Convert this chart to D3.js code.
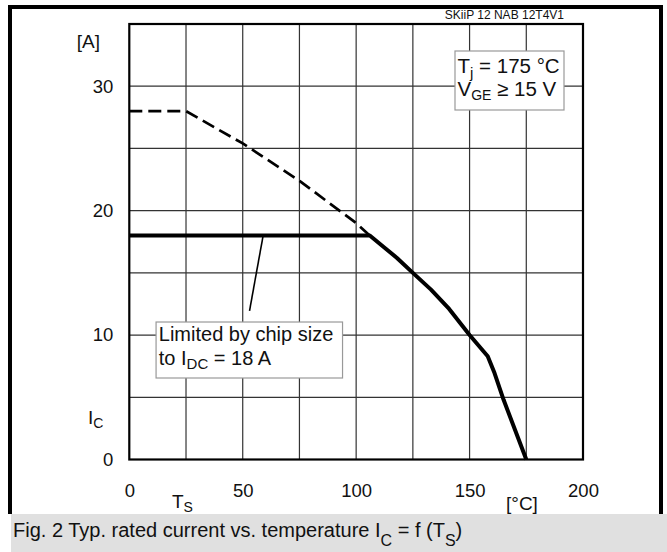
<!DOCTYPE html>
<html>
<head>
<meta charset="utf-8">
<script src="https://cdn.jsdelivr.net/npm/d3@7"></script>
<style>
  body { margin: 0; background: #fff; }
  text { font-family: "Liberation Sans", Arial, sans-serif; fill: #111; }
</style>
</head>
<body>
<div id="chart"></div>
<script>
// chart values
const xTicks = [0, 50, 100, 150, 200];
const xGrid = [25, 50, 75, 100, 125, 150, 175];
const yTicks = [0, 10, 20, 30];
const yGrid = [5, 10, 15, 20, 25, 30];

// dashed curve (not limited by chip size)
const tempDashed = [0, 25, 50, 75, 100, 106];
const currentDashed = [28, 28, 25.4, 22.4, 19, 18];

// solid curve (limited to I_DC = 18 A)
const tempSolid = [0, 106, 112, 118, 125, 133, 141, 150, 158, 161, 165, 175];
const currentSolid = [18, 18, 17.1, 16.2, 15, 13.65, 12.1, 10, 8.3, 6.95, 4.8, 0];

const W = 667;
const H = 552;
const margin = { top: 24, right: 84, bottom: 92.5, left: 129.3 };
const width = W - margin.left - margin.right;
const height = H - margin.top - margin.bottom;

const svg = d3
  .select("#chart")
  .append("svg")
  .attr("width", W)
  .attr("height", H);

// outer frame (open at the bottom, caption sits there)
svg
  .append("path")
  .attr("d", "M10,514 V7 H661 V514")
  .attr("fill", "none")
  .attr("stroke", "#000")
  .attr("stroke-width", 4);

svg
  .append("rect")
  .attr("x", 11)
  .attr("y", 514)
  .attr("width", 656)
  .attr("height", 38)
  .attr("fill", "#e0e0e0");

const capText = svg
  .append("text")
  .attr("x", 13)
  .attr("y", 537)
  .style("font-size", "20px");
capText.append("tspan").text("Fig. 2 Typ. rated current vs. temperature I");
capText.append("tspan").attr("dy", 9).style("font-size", "16px").text("C");
capText.append("tspan").attr("dy", -9).text(" = f (T");
capText.append("tspan").attr("dy", 9).style("font-size", "16px").text("S");
capText.append("tspan").attr("dy", -9).text(")");

const g = svg
  .append("g")
  .attr("transform", `translate(${margin.left},${margin.top})`);

const xScale = d3.scaleLinear().domain([0, 200]).range([0, width]);
const yScale = d3.scaleLinear().domain([0, 35]).range([height, 0]);

// grid
g.selectAll(".vgrid")
  .data(xGrid)
  .enter()
  .append("line")
  .attr("class", "vgrid")
  .attr("x1", (d) => xScale(d))
  .attr("x2", (d) => xScale(d))
  .attr("y1", 0)
  .attr("y2", height)
  .attr("stroke", "#333")
  .attr("stroke-width", 1.2);

g.selectAll(".hgrid")
  .data(yGrid)
  .enter()
  .append("line")
  .attr("class", "hgrid")
  .attr("x1", 0)
  .attr("x2", width)
  .attr("y1", (d) => yScale(d))
  .attr("y2", (d) => yScale(d))
  .attr("stroke", "#333")
  .attr("stroke-width", 1.2);

g.append("rect")
  .attr("x", 0)
  .attr("y", 0)
  .attr("width", width)
  .attr("height", height)
  .attr("fill", "none")
  .attr("stroke", "#000")
  .attr("stroke-width", 2.2);

// tick labels
const xAxis = g
  .append("g")
  .attr("transform", `translate(0,${height})`)
  .call(d3.axisBottom(xScale).tickValues(xTicks).tickSize(0).tickPadding(24));
xAxis.select(".domain").remove();
xAxis
  .selectAll("text")
  .style("font-size", "18.5px")
  .style("font-family", '"Liberation Sans", Arial, sans-serif')
  .attr("fill", "#111");

const yAxis = g
  .append("g")
  .call(d3.axisLeft(yScale).tickValues(yTicks).tickSize(0).tickPadding(16));
yAxis.select(".domain").remove();
yAxis
  .selectAll("text")
  .style("font-size", "18.5px")
  .style("font-family", '"Liberation Sans", Arial, sans-serif')
  .attr("fill", "#111");

// axis unit labels
svg
  .append("text")
  .attr("x", 100)
  .attr("y", 48)
  .attr("text-anchor", "end")
  .style("font-size", "19px")
  .text("[A]");

const icLabel = svg
  .append("text")
  .attr("x", 88)
  .attr("y", 424)
  .style("font-size", "19px");
icLabel.append("tspan").text("I");
icLabel.append("tspan").attr("dy", 4).style("font-size", "14px").text("C");

const tsLabel = svg
  .append("text")
  .attr("x", 172)
  .attr("y", 508)
  .style("font-size", "19px");
tsLabel.append("tspan").text("T");
tsLabel.append("tspan").attr("dy", 4).style("font-size", "14px").text("S");

svg
  .append("text")
  .attr("x", 506)
  .attr("y", 510)
  .style("font-size", "19px")
  .text("[°C]");

svg
  .append("text")
  .attr("x", 564)
  .attr("y", 19)
  .attr("text-anchor", "end")
  .style("font-size", "12px")
  .text("SKiiP 12 NAB 12T4V1");

// curves
const dashedData = tempDashed.map((t, i) => ({ t: t, ic: currentDashed[i] }));
const solidData = tempSolid.map((t, i) => ({ t: t, ic: currentSolid[i] }));

const line = d3
  .line()
  .x((d) => xScale(d.t))
  .y((d) => yScale(d.ic));

g.append("path")
  .datum(dashedData)
  .attr("fill", "none")
  .attr("stroke", "#000")
  .attr("stroke-width", 2.7)
  .attr("stroke-dasharray", "13,6")
  .attr("d", line);

g.append("path")
  .datum(solidData)
  .attr("fill", "none")
  .attr("stroke", "#000")
  .attr("stroke-width", 4)
  .attr("stroke-linejoin", "round")
  .attr("d", line);

// annotation: leader line + box
g.append("line")
  .attr("x1", xScale(59))
  .attr("y1", yScale(18))
  .attr("x2", xScale(53))
  .attr("y2", yScale(11.95))
  .attr("stroke", "#000")
  .attr("stroke-width", 1.6);

g.append("rect")
  .attr("x", xScale(11.8))
  .attr("y", yScale(11.05))
  .attr("width", xScale(94) - xScale(11.8))
  .attr("height", yScale(6.55) - yScale(11.05))
  .attr("fill", "#fff")
  .attr("stroke", "#999")
  .attr("stroke-width", 1.2);

g.append("text")
  .attr("x", xScale(13))
  .attr("y", yScale(11.05) + 18.5)
  .style("font-size", "20px")
  .text("Limited by chip size");

const idcText = g
  .append("text")
  .attr("x", xScale(13))
  .attr("y", yScale(11.05) + 43)
  .style("font-size", "20px");
idcText.append("tspan").text("to I");
idcText.append("tspan").attr("dy", 4).style("font-size", "15px").text("DC");
idcText.append("tspan").attr("dy", -4).text(" = 18 A");

// conditions box
svg
  .append("rect")
  .attr("x", 455)
  .attr("y", 51)
  .attr("width", 109)
  .attr("height", 59)
  .attr("fill", "#fff")
  .attr("stroke", "#999")
  .attr("stroke-width", 1.2);

const tjText = svg
  .append("text")
  .attr("x", 457.5)
  .attr("y", 72.5)
  .style("font-size", "20.5px");
tjText.append("tspan").text("T");
tjText.append("tspan").attr("dy", 5).style("font-size", "15px").text("j");
tjText.append("tspan").attr("dy", -5).text(" = 175 °C");

const vgeText = svg
  .append("text")
  .attr("x", 457.5)
  .attr("y", 96)
  .style("font-size", "20.5px");
vgeText.append("tspan").text("V");
vgeText.append("tspan").attr("dy", 4).style("font-size", "14px").text("GE");
vgeText.append("tspan").attr("dy", -4).text(" ≥ 15 V");
</script>
</body>
</html>
